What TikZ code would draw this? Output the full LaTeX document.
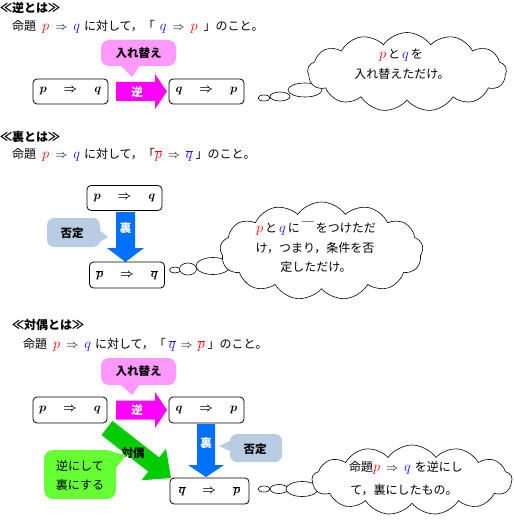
\documentclass[tikz,border=0pt]{standalone}
\usepackage{fontspec}
\setmainfont{Noto Sans CJK JP}
\usetikzlibrary{shapes.symbols,shapes.geometric}
\definecolor{pinkc}{RGB}{255,153,255}
\definecolor{magarrow}{RGB}{255,0,255}
\definecolor{bluearrow}{RGB}{0,112,255}
\definecolor{steelc}{RGB}{184,204,228}
\definecolor{greenarrow}{RGB}{0,204,0}
\definecolor{limec}{RGB}{102,255,51}
\definecolor{pred}{RGB}{255,0,0}
\definecolor{qblue}{RGB}{20,20,255}
\newcommand{\mbig}[1]{{\fontsize{14}{14}\selectfont$#1$}}
\newcommand{\redp}{\textcolor{pred}{\mbig{p}}}
\newcommand{\blueq}{\textcolor{qblue}{\mbig{q}}}
\newcommand{\redpbar}{\textcolor{pred}{\mbig{\overline{p}}}}
\newcommand{\blueqbar}{\textcolor{qblue}{\mbig{\overline{q}}}}
\newcommand{\imp}{\hspace{6pt}$\Rightarrow$\hspace{6pt}}
\begin{document}
\begin{tikzpicture}[x=1pt,y=-1pt,
  every node/.style={inner sep=0pt},
  stmt/.style={draw, line width=0.8pt, rounded corners=4pt, fill=white, minimum width=75pt, minimum height=25pt, font=\fontsize{13}{14}\selectfont\boldmath},
  heading/.style={anchor=west, font=\fontsize{12}{14}\selectfont\bfseries},
  stmtline/.style={anchor=west, font=\fontsize{12}{14}\selectfont},
  lbl/.style={font=\fontsize{11.5}{14}\selectfont\bfseries},
  wlbl/.style={lbl, text=white},
  txt/.style={font=\fontsize{12}{14}\selectfont},
  cloudy/.style={cloud, cloud puffs=13, cloud puff arc=110, aspect=2.5, draw, line width=0.6pt, fill=white},
  bub/.style={ellipse, draw, line width=0.6pt, fill=white},
]
\useasboundingbox (0,0) rectangle (513,521);

% ---------- Section 1 ----------
\node[heading] (h1) at (0,8) {≪逆とは≫};
\node[stmtline] (l1) at (12,27) {命題\hspace{6pt}\redp\imp\blueq\hspace{4pt}に対して，「\hspace{5pt}\blueq\imp\redp\hspace{6pt}」のこと。};

\fill[pinkc, rounded corners=8pt] (101,40) rectangle (176,66);
\fill[pinkc] (120,65) -- (132,77) -- (140,65) -- cycle;
\node[lbl] (cb1) at (138.5,53) {入れ替え};

\fill[magarrow] (116,82) -- (155,82) -- (155,74) -- (167,91.5) -- (155,109) -- (155,101) -- (116,101) -- cycle;
\node[wlbl] (g1) at (137,92) {逆};

\node[stmt] (a1) at (70.5,91.5) {$p\quad\Rightarrow\quad q$};
\node[stmt] (a2) at (206.5,91.5) {$q\quad\Rightarrow\quad p$};

\node[bub, minimum width=12pt, minimum height=6pt] (t11) at (264,98) {};
\node[bub, minimum width=20pt, minimum height=9pt] (t12) at (280,96.5) {};
\node[bub, minimum width=34pt, minimum height=14pt] (t13) at (305,90) {};
\node[cloudy, minimum width=199pt, minimum height=79pt] (k1) at (407,72) {};
\node[txt] (k1a) at (401,55) {\redp\,と\,\blueq\,を};
\node[txt] (k1b) at (402,74) {入れ替えただけ。};

% ---------- Section 2 ----------
\node[heading] (h2) at (0,137) {≪裏とは≫};
\node[stmtline] (l2) at (12,155) {命題\hspace{6pt}\redp\imp\blueq\hspace{4pt}に対して，「\redpbar\imp\blueqbar\hspace{3pt}」のこと。};

\fill[bluearrow] (116,212) -- (135,212) -- (135,248) -- (144,248) -- (125.5,262) -- (107,248) -- (116,248) -- cycle;
\node[wlbl] (u1) at (125.5,228) {裏};

\fill[steelc, rounded corners=7pt] (47,218) rectangle (100,247);
\fill[steelc] (98,229) -- (108,237) -- (98,243) -- cycle;
\node[lbl] (n1) at (72,233) {否定};

\node[stmt] (b1) at (124.5,198) {$p\quad\Rightarrow\quad q$};
\node[stmt, minimum height=26pt] (b2) at (127,275) {$\overline{p}\quad\Rightarrow\quad\overline{q}$};

\node[bub, minimum width=11pt, minimum height=6pt] (t21) at (175,270) {};
\node[bub, minimum width=17pt, minimum height=12pt] (t22) at (188,269) {};
\node[bub, minimum width=34pt, minimum height=17pt] (t23) at (213,266) {};
\node[cloudy, minimum width=203pt, minimum height=98pt] (k2) at (321.5,251) {};
\node[txt] (k2a) at (316,229) {\redp\,と\,\blueq\,に\,￣\,をつけただ};
\node[txt] (k2b) at (315,248) {け，つまり，条件を否};
\node[txt] (k2c) at (316,267) {定しただけ。};

% ---------- Section 3 ----------
\node[heading] (h3) at (12,325) {≪対偶とは≫};
\node[stmtline] (l3) at (23,345) {命題\hspace{6pt}\redp\imp\blueq\hspace{4pt}に対して，「\hspace{3pt}\blueqbar\hspace{-1pt}\imp\hspace{-1pt}\redpbar\hspace{3pt}」のこと。};

\fill[pinkc, rounded corners=8pt] (101,358) rectangle (176,385);
\fill[pinkc] (120,384) -- (132,395) -- (140,384) -- cycle;
\node[lbl] (cb3) at (138.5,371) {入れ替え};

\fill[magarrow] (116,400.5) -- (155,400.5) -- (155,392) -- (167,410) -- (155,428) -- (155,419.5) -- (116,419.5) -- cycle;
\node[wlbl] (g3) at (137,410.5) {逆};

\fill[greenarrow] (101.5,435.1) -- (112.5,420.9) -- (159.2,457.4) -- (166,448.7) -- (171,478) -- (141.4,480.3) -- (148.2,471.6) -- cycle;
\node[lbl] (dg) at (133,453) {対偶};

\fill[bluearrow] (197,424) -- (215,424) -- (215,465) -- (224,465) -- (206,477) -- (188,465) -- (197,465) -- cycle;
\node[wlbl] (u3) at (206,443) {裏};

\fill[steelc, rounded corners=7pt] (230,434) rectangle (282,462);
\fill[steelc] (232,440) -- (219,446) -- (232,452) -- cycle;
\node[lbl] (n3) at (255,449) {否定};

\fill[limec, rounded corners=9pt] (44,450) rectangle (116,499);
\fill[limec] (108,451) -- (126,455) -- (116,468) -- cycle;
\node[txt] (gc1) at (80,466) {逆にして};
\node[txt] (gc2) at (80,485) {裏にする};

\node[stmt, minimum width=74pt, minimum height=26pt] (c1) at (70,410) {$p\quad\Rightarrow\quad q$};
\node[stmt, minimum height=26pt] (c2) at (206.5,410) {$q\quad\Rightarrow\quad p$};
\node[stmt, minimum width=79pt, minimum height=26pt] (c3) at (209.5,491) {$\overline{q}\quad\Rightarrow\quad\overline{p}$};

\node[bub, minimum width=12pt, minimum height=6pt] (t31) at (264,489) {};
\node[bub, minimum width=18pt, minimum height=9pt] (t32) at (279,489) {};
\node[bub, minimum width=32pt, minimum height=15pt] (t33) at (302,489) {};
\node[cloudy, minimum width=200pt, minimum height=70pt] (k3) at (412,480) {};
\node[txt] (k3a) at (406,468) {命題\redp\imp\blueq\hspace{4pt}を逆にし};
\node[txt] (k3b) at (404,490) {て，裏にしたもの。};
\end{tikzpicture}
\end{document}
